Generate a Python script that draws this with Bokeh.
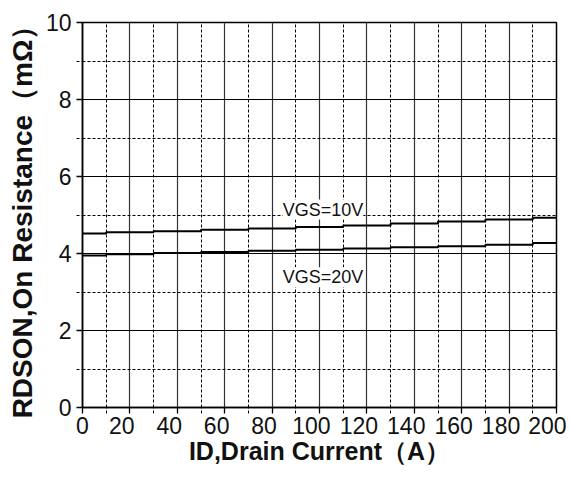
from bokeh.plotting import figure
from bokeh.models import Range1d, FixedTicker, Label, LinearAxis
from bokeh.embed import file_html
from bokeh.resources import INLINE

current = [0, 20, 40, 60, 80, 100, 120, 140, 160, 180, 200]
rds_vgs10 = [4.52, 4.55, 4.58, 4.62, 4.65, 4.69, 4.73, 4.78, 4.83, 4.88, 4.93]
rds_vgs20 = [3.95, 3.98, 4.01, 4.04, 4.07, 4.10, 4.13, 4.16, 4.19, 4.23, 4.27]
x_ticks = [0, 20, 40, 60, 80, 100, 120, 140, 160, 180, 200]
x_tick_labels = ["0", "20", "40", "60", "80", "100", "120", "140", "160", "180", "200"]
x_minor = [10, 30, 50, 70, 90, 110, 130, 150, 170, 190]
y_ticks = [0, 2, 4, 6, 8, 10]
y_minor = [1, 3, 5, 7, 9]

FONT = "Liberation Sans"
X_MIN, X_MAX = 0, 200
LABEL_SHIFT = 3.4  # x tick labels sit a little left of their ticks in the reference

p = figure(width=566, height=469, output_backend="svg", toolbar_location=None,
           x_range=Range1d(X_MIN, X_MAX), y_range=Range1d(0, 10),
           min_border_left=82, min_border_right=10, min_border_top=22, min_border_bottom=62)
p.background_fill_color = "white"
p.border_fill_color = "white"
p.outline_line_color = "black"
p.outline_line_width = 1.5

for ax, ticks, minor in ((p.xaxis[0], x_ticks, x_minor), (p.yaxis[0], y_ticks, y_minor)):
    ax.ticker = FixedTicker(ticks=ticks, minor_ticks=minor)
    ax.axis_line_color = "black"
    ax.axis_line_width = 1.5
    ax.major_tick_in = 0
    ax.major_tick_out = 6
    ax.major_tick_line_color = "black"
    ax.major_tick_line_width = 1.3
    ax.minor_tick_in = 0
    ax.minor_tick_out = 6
    ax.minor_tick_line_color = "black"
    ax.minor_tick_line_dash = "3 2"
    ax.major_label_text_font = FONT
    ax.major_label_text_font_size = "23px"
    ax.major_label_text_color = "#111111"
    ax.axis_label_text_font = FONT
    ax.axis_label_text_font_style = "bold"
    ax.axis_label_text_color = "#111111"

# main x axis: ticks only
p.xaxis.major_label_overrides = {t: "" for t in x_ticks}
p.xaxis.major_label_text_font_size = "1px"
p.xaxis.major_label_standoff = 0

# label axis below: numbers placed a little left of their ticks (the "0" cannot leave the range)
lab_pos = [max(X_MIN, t - LABEL_SHIFT) for t in x_ticks]
lab_ax = LinearAxis(ticker=FixedTicker(ticks=lab_pos, minor_ticks=[]),
                    major_label_overrides={pos: txt for pos, txt in zip(lab_pos, x_tick_labels)},
                    axis_line_color=None, major_tick_line_color=None, minor_tick_line_color=None,
                    major_tick_in=0, major_tick_out=0, minor_tick_in=0, minor_tick_out=0,
                    major_label_standoff=3,
                    major_label_text_font=FONT, major_label_text_font_size="23px",
                    major_label_text_color="#111111",
                    axis_label="ID,Drain Current（A）", axis_label_standoff=0,
                    axis_label_text_font=FONT, axis_label_text_font_style="bold",
                    axis_label_text_font_size="25px", axis_label_text_color="#111111")
p.add_layout(lab_ax, "below")

p.yaxis.major_label_standoff = 5
p.yaxis.axis_label = "RDSON,On Resistance（mΩ）"
p.yaxis.axis_label_standoff = 5
p.yaxis.axis_label_text_font_size = "28px"

p.xgrid.ticker = FixedTicker(ticks=x_ticks, minor_ticks=x_minor)
p.ygrid.ticker = FixedTicker(ticks=y_ticks, minor_ticks=y_minor)
p.xgrid.grid_line_color = "#333333"
p.ygrid.grid_line_color = "black"
p.grid.grid_line_width = 1.2
p.grid.minor_grid_line_color = "black"
p.grid.minor_grid_line_dash = "3 2"
p.grid.minor_grid_line_width = 1

p.step(current, rds_vgs10, mode="center", line_color="black", line_width=2)
p.step(current, rds_vgs20, mode="center", line_color="black", line_width=2)

p.add_layout(Label(x=101.5, y=5.14, text="VGS=10V", text_font=FONT, text_font_size="18px",
                   text_align="center", text_baseline="middle", text_color="#111111",
                   background_fill_color="white"))
p.add_layout(Label(x=101.5, y=3.38, text="VGS=20V", text_font=FONT, text_font_size="18px",
                   text_align="center", text_baseline="middle", text_color="#111111",
                   background_fill_color="white"))

open("out.html", "w").write(file_html(p, INLINE))
